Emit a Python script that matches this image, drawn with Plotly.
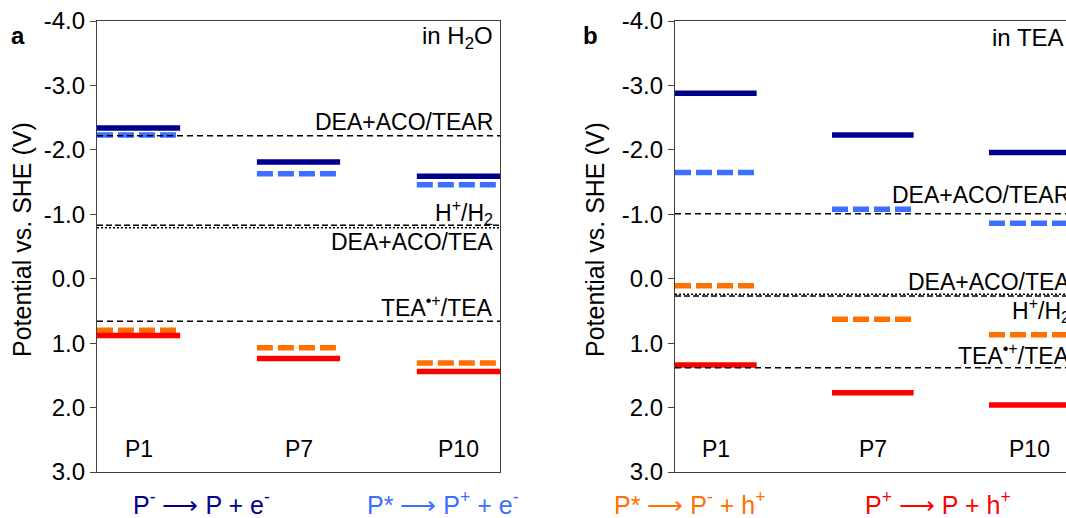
import plotly.graph_objects as go

# ---------------- data ----------------
categories = ["P1", "P7", "P10"]

# panel a (in H2O), potentials vs SHE (V)
a_anion = [-2.34, -1.81, -1.59]      # P- -> P + e-
a_excited_ox = [-2.23, -1.63, -1.46]  # P* -> P+ + e-
a_excited_red = [0.80, 1.07, 1.31]    # P* -> P- + h+
a_cation = [0.88, 1.24, 1.44]         # P+ -> P + h+

# panel b (in TEA)
b_anion = [-2.88, -2.23, -1.96]
b_excited_ox = [-1.65, -1.08, -0.86]
b_excited_red = [0.11, 0.63, 0.87]
b_cation = [1.34, 1.77, 1.96]

ref_names = ["DEA+ACO/TEAR", "H<sup>+</sup>/H<sub>2</sub>", "DEA+ACO/TEA", "TEA<sup>•+</sup>/TEA"]
a_ref_values = [-2.22, -0.83, -0.79, 0.66]
b_ref_values = [-1.01, 0.27, 0.24, 1.38]
ref_dash = ["6px,4px", "6px,3px", "2px,2px", "6px,4px"]

tick_values = [-4, -3, -2, -1, 0, 1, 2, 3]
tick_labels = ["-4.0", "-3.0", "-2.0", "-1.0", "0.0", "1.0", "2.0", "3.0"]

legend_labels = [
    "P<sup>-</sup> ⟶ P + e<sup>-</sup>",
    "P* ⟶ P<sup>+</sup> + e<sup>-</sup>",
    "P* ⟶ P<sup>-</sup> + h<sup>+</sup>",
    "P<sup>+</sup> ⟶ P + h<sup>+</sup>",
]

# ---------------- styles ----------------
NAVY = "#000090"
BLUE = "#3D6EFF"
ORANGE = "#FF7000"
RED = "#FF0000"
FONT = "Liberation Sans"
W, H = 1066, 518
MT, MB = 21, 46
PH = H - MT - MB
HALF = 0.26
AX_COLOR = "#404040"
DASH_THICK = "16px,5px"


def px_x(p):
    return p / W


def px_y(p):
    return (H - MB - p) / PH


def seg(values):
    xs, ys = [], []
    for i, v in enumerate(values):
        xs += [i - HALF, i + HALF, None]
        ys += [v, v, None]
    return xs, ys


fig = go.Figure()

series = [
    ("a", a_anion, NAVY, "solid"),
    ("a", a_excited_ox, BLUE, DASH_THICK),
    ("a", a_excited_red, ORANGE, DASH_THICK),
    ("a", a_cation, RED, "solid"),
    ("b", b_anion, NAVY, "solid"),
    ("b", b_excited_ox, BLUE, DASH_THICK),
    ("b", b_excited_red, ORANGE, DASH_THICK),
    ("b", b_cation, RED, "solid"),
]
for panel, vals, col, dash in series:
    xs, ys = seg(vals)
    fig.add_trace(go.Scatter(
        x=xs, y=ys, mode="lines",
        line=dict(color=col, width=5.5, dash=dash),
        xaxis="x" if panel == "a" else "x2",
        yaxis="y" if panel == "a" else "y2",
        showlegend=False, hoverinfo="skip",
    ))

# reference lines
for xr, vals in (("x", a_ref_values), ("x2", b_ref_values)):
    for v, d in zip(vals, ref_dash):
        fig.add_shape(type="line", xref=f"{xr} domain", x0=0, x1=1,
                      yref="y" if xr == "x" else "y2", y0=v, y1=v,
                      line=dict(color="black", width=1.5, dash=d), layer="above")

# category labels
for xr, yr in (("x", "y"), ("x2", "y2")):
    for i, c in enumerate(categories):
        fig.add_annotation(x=i, y=2.65, xref=xr, yref=yr, text=c, showarrow=False,
                           font=dict(size=23, color="black", family=FONT))

# reference labels (pixel positions)
a_lab_y = [122, 212, 242, 306]
b_lab_y = [195, 310, 282, 354]
for name, py in zip(ref_names, a_lab_y):
    fig.add_annotation(x=px_x(495), y=px_y(py), xref="paper", yref="paper", text=name,
                       xanchor="right", yanchor="middle", showarrow=False,
                       font=dict(size=23, color="black", family=FONT))
for name, py in zip(ref_names, b_lab_y):
    fig.add_annotation(x=px_x(1072), y=px_y(py), xref="paper", yref="paper", text=name,
                       xanchor="right", yanchor="middle", showarrow=False,
                       font=dict(size=23, color="black", family=FONT))

# solvent labels
fig.add_annotation(x=px_x(495), y=px_y(37), xref="paper", yref="paper", text="in H<sub>2</sub>O",
                   xanchor="right", yanchor="middle", showarrow=False,
                   font=dict(size=24, color="black", family=FONT))
fig.add_annotation(x=px_x(990), y=px_y(37), xref="paper", yref="paper", text="in TEA",
                   xanchor="left", yanchor="middle", showarrow=False,
                   font=dict(size=24, color="black", family=FONT))

# panel letters
for letter, px in (("a", 18), ("b", 590)):
    fig.add_annotation(x=px_x(px), y=px_y(36), xref="paper", yref="paper", text=f"<b>{letter}</b>",
                       xanchor="center", yanchor="middle", showarrow=False,
                       font=dict(size=24, color="black", family=FONT))

# y titles
for px in (22, 595):
    fig.add_annotation(x=px_x(px), y=px_y(240), xref="paper", yref="paper",
                       text="Potential vs. SHE (V)", textangle=-90,
                       xanchor="center", yanchor="middle", showarrow=False,
                       font=dict(size=25, color="black", family=FONT))

# legend-like captions
for text, col, cx in zip(legend_labels, [NAVY, BLUE, ORANGE, RED], [201, 443, 689, 938]):
    fig.add_annotation(x=px_x(cx), y=px_y(503), xref="paper", yref="paper", text=text,
                       xanchor="center", yanchor="middle", showarrow=False,
                       font=dict(size=25, color=col, family=FONT))

b_left = 675
b_unit = 157
yaxis_common = dict(range=[3, -4], tickvals=tick_values, ticktext=tick_labels,
                    ticks="outside", ticklen=6, tickcolor=AX_COLOR, showline=True,
                    linecolor=AX_COLOR, linewidth=1.2, showgrid=False, zeroline=False,
                    tickfont=dict(size=24, color="black", family=FONT))

fig.update_layout(
    width=W, height=H,
    margin=dict(l=0, r=0, t=MT, b=MB),
    paper_bgcolor="white", plot_bgcolor="white",
    xaxis=dict(domain=[px_x(97), px_x(500)], range=[-HALF, 2 + HALF], showline=True, mirror=True,
               linecolor=AX_COLOR, linewidth=1.2, showticklabels=False, ticks="",
               showgrid=False, zeroline=False),
    yaxis=dict(anchor="x", mirror=True, **yaxis_common),
    xaxis2=dict(domain=[px_x(b_left), 1], range=[-HALF, -HALF + (W - b_left) / b_unit],
                showline=True, mirror=True, linecolor=AX_COLOR, linewidth=1.2,
                showticklabels=False, ticks="", showgrid=False, zeroline=False, anchor="y2"),
    yaxis2=dict(anchor="x2", mirror=False, **yaxis_common),
    font=dict(family=FONT),
)

fig.write_html("out.html")
